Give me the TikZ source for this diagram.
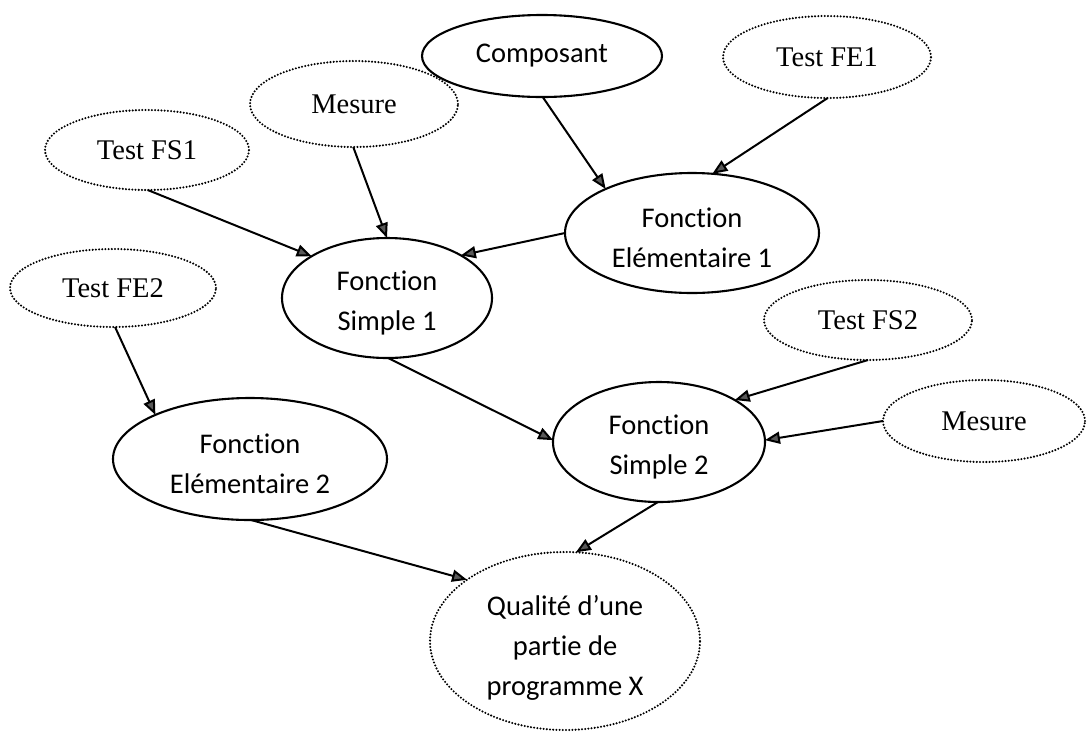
\documentclass[tikz,border=0pt]{standalone}
\usepackage{fontspec}
\setmainfont{Liberation Serif}
\newfontfamily\calib[Ligatures=NoCommon]{Carlito}
\usetikzlibrary{shapes.geometric,arrows.meta}

\begin{document}
\begin{tikzpicture}[x=1pt,y=-1pt,
  base/.style={ellipse, inner sep=0pt, outer sep=0pt, align=center},
  solidnode/.style={base, draw, line width=2.1pt},
  dotnode/.style={base, draw, line width=2.3pt, line cap=round, dash pattern=on 0pt off 3.2pt},
  calfont/.style={font=\calib\fontsize{28.5}{40}\selectfont},
  timesfont/.style={font=\fontsize{28.5}{33}\selectfont},
  % two-line text set slightly below the ellipse centre
  ctext/.style={label={[calfont, align=center, yshift=-5pt]center:#1}},
  link/.style={line width=2pt, -{Triangle[length=15pt,width=12pt,fill=black!65]}}
]
\fill[white] (0,0) rectangle (1087,732);
\useasboundingbox (0,0) rectangle (1087,732);

% inputs and intermediate functions
\node[solidnode, calfont, minimum width=240pt, minimum height=82pt] (comp) at (542,56) {Composant};
\node[dotnode, timesfont, minimum width=208pt, minimum height=82pt] (tfe1) at (827,57) {Test FE1};
\node[dotnode, timesfont, minimum width=208pt, minimum height=86pt] (mes1) at (354,104) {Mesure};
\node[dotnode, timesfont, minimum width=204pt, minimum height=80pt] (tfs1) at (147,150) {Test FS1};
\node[solidnode, minimum width=254pt, minimum height=120pt, ctext={Fonction\\Elémentaire 1}] (fe1) at (692,233) {};
\node[solidnode, minimum width=210pt, minimum height=120pt, ctext={Fonction\\Simple 1}] (fs1) at (387,298) {};
\node[dotnode, timesfont, minimum width=206pt, minimum height=78pt] (tfe2) at (113,288) {Test FE2};
\node[dotnode, timesfont, minimum width=208pt, minimum height=80pt] (tfs2) at (868,320) {Test FS2};
\node[dotnode, timesfont, minimum width=202pt, minimum height=82pt] (mes2) at (984,421) {Mesure};
\node[solidnode, minimum width=212pt, minimum height=120pt, ctext={Fonction\\Simple 2}] (fs2) at (659,442) {};
\node[solidnode, minimum width=274pt, minimum height=122pt, ctext={Fonction\\Elémentaire 2}] (fe2) at (250,459) {};
% final quality node
\node[dotnode, minimum width=270pt, minimum height=178pt,
      label={[calfont, align=center, yshift=-7pt]center:Qualité d’une\\partie de\\programme X}] (qual) at (565,641) {};

% dependencies
\draw[link] (comp.-89) -- (fe1.153);
\draw[link] (tfe1.-89) -- (fe1.71);
\draw[link] (mes1.-91) -- (fs1.90);
\draw[link] (tfs1.-89) -- (fs1.151);
\draw[link] (fe1.180) -- (fs1.30);
\draw[link] (tfe2.-87) -- (fe2.155);
\draw[link] (fs1.-89) -- (fs2.179);
\draw[link] (tfs2.-90) -- (fs2.29);
\draw[link] (mes2.180) -- (fs2.1);
\draw[link] (fe2.-89) -- (qual.148);
\draw[link] (fs2.-91) -- (qual.83);
\end{tikzpicture}
\end{document}
